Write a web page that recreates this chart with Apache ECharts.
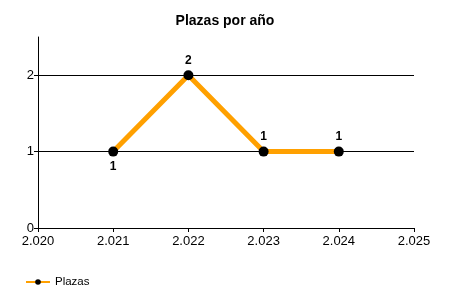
<!DOCTYPE html>
<html><head><meta charset="utf-8">
<script src="https://cdn.jsdelivr.net/npm/echarts@6/dist/echarts.min.js"></script>
<style>html,body{margin:0;padding:0;background:#fff}#c{width:450px;height:300px}</style>
</head><body><div id="c"></div>
<script>
const years = [2021, 2022, 2023, 2024];
const plazas = [1, 2, 1, 1];
const labelPositions = ['bottom', 'top', 'top', 'top'];
const xMin = 2020, xMax = 2025;
const yMin = 0, yMax = 2.5;
const yTicks = [0, 1, 2];

const font = '"Liberation Sans", Arial, sans-serif';
const chart = echarts.init(document.getElementById('c'));
chart.setOption({
  animation: false,
  backgroundColor: '#fff',
  title: { text: 'Plazas por año', left: 'center', top: 9,
    textStyle: { fontFamily: font, fontSize: 14, fontWeight: 'bold', color: '#000' } },
  legend: { left: 20, top: 271, itemWidth: 24, itemHeight: 7, itemGap: 5,
    textStyle: { fontFamily: font, fontSize: 11.5, color: '#000' },
    data: ['Plazas'] },
  grid: { left: 38, right: 36, top: 37, bottom: 72 },
  xAxis: { type: 'value', min: xMin, max: xMax, interval: 1,
    axisLine: { lineStyle: { color: '#000', width: 1 } },
    axisTick: { show: true, length: 4, lineStyle: { color: '#000' } },
    splitLine: { show: false },
    axisLabel: { fontFamily: font, fontSize: 13, color: '#000', margin: 7,
      showMinLabel: true, showMaxLabel: true,
      formatter: v => { const s = String(v); return s.slice(0, 1) + '.' + s.slice(1); } } },
  yAxis: { type: 'value', min: yMin, max: yMax, interval: 1,
    axisLine: { show: true, lineStyle: { color: '#000', width: 1 } },
    axisTick: { show: true, length: 4, customValues: yTicks, lineStyle: { color: '#000' } },
    splitLine: { show: true, showMinLine: false, showMaxLine: true, lineStyle: { color: '#000', width: 1 } },
    axisLabel: { fontFamily: font, fontSize: 13, color: '#000', margin: 4, customValues: yTicks,
      formatter: v => String(v) } },
  series: [{
    name: 'Plazas', type: 'line',
    data: years.map((y, i) => ({ value: [y, plazas[i]],
      label: { position: labelPositions[i] } })),
    symbol: 'circle', symbolSize: 10,
    itemStyle: { color: '#000' },
    lineStyle: { color: '#FFA000', width: 5 },
    label: { show: true, fontFamily: font, fontSize: 12, fontWeight: 'bold', color: '#000', distance: 4,
      formatter: p => String(p.value[1]) },
    z: 3
  }]
});
</script></body></html>
